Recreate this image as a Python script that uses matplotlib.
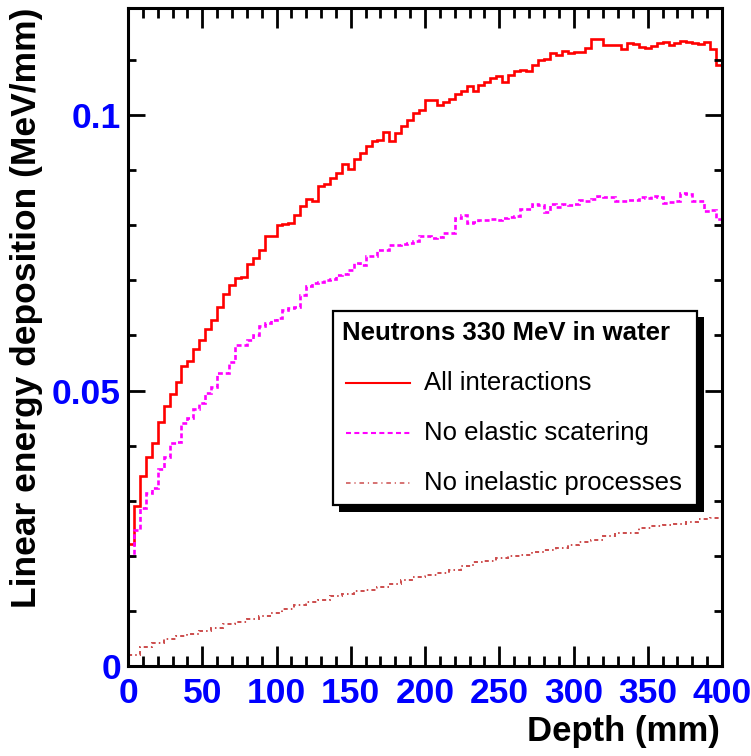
import numpy as np
import matplotlib
matplotlib.use("Agg")
import matplotlib.pyplot as plt
from matplotlib.patches import Rectangle
from matplotlib.lines import Line2D
from matplotlib.ticker import MultipleLocator

plt.rcParams['font.family'] = ['Liberation Sans', 'DejaVu Sans']

# depth bins (mm)
edges_fine = np.arange(0, 404, 4)      # 100 bins of 4 mm
edges_coarse = np.arange(0, 408, 8)    # 50 bins of 8 mm

# Linear energy deposition (MeV/mm)
all_interactions = [
    0.0221, 0.0291, 0.0344, 0.0380, 0.0404, 0.0442, 0.0472, 0.0494, 0.0515, 0.0545,
    0.0554, 0.0576, 0.0592, 0.0612, 0.0629, 0.0652, 0.0676, 0.0692, 0.0705, 0.0706,
    0.0730, 0.0741, 0.0755, 0.0781, 0.0780, 0.0801, 0.0803, 0.0804, 0.0818, 0.0836,
    0.0848, 0.0844, 0.0872, 0.0875, 0.0886, 0.0895, 0.0912, 0.0903, 0.0921, 0.0932,
    0.0945, 0.0953, 0.0955, 0.0970, 0.0953, 0.0968, 0.0981, 0.0991, 0.1005, 0.1010,
    0.1027, 0.1027, 0.1018, 0.1024, 0.1030, 0.1039, 0.1045, 0.1053, 0.1045, 0.1056,
    0.1060, 0.1067, 0.1071, 0.1060, 0.1074, 0.1080, 0.1083, 0.1080, 0.1092, 0.1100,
    0.1103, 0.1113, 0.1109, 0.1116, 0.1114, 0.1115, 0.1115, 0.1123, 0.1138, 0.1138,
    0.1127, 0.1127, 0.1127, 0.1121, 0.1132, 0.1129, 0.1124, 0.1123, 0.1126, 0.1132,
    0.1133, 0.1127, 0.1131, 0.1135, 0.1134, 0.1131, 0.1129, 0.1133, 0.1121, 0.1092,
]

no_elastic = [
    0.0200, 0.0247, 0.0286, 0.0313, 0.0322, 0.0358, 0.0380, 0.0404, 0.0407, 0.0441,
    0.0450, 0.0467, 0.0478, 0.0496, 0.0507, 0.0532, 0.0532, 0.0551, 0.0583, 0.0583,
    0.0592, 0.0600, 0.0618, 0.0622, 0.0628, 0.0632, 0.0647, 0.0650, 0.0652, 0.0674,
    0.0689, 0.0695, 0.0698, 0.0701, 0.0703, 0.0710, 0.0712, 0.0719, 0.0732, 0.0728,
    0.0744, 0.0745, 0.0755, 0.0756, 0.0765, 0.0764, 0.0766, 0.0768, 0.0772, 0.0780,
    0.0781, 0.0778, 0.0779, 0.0787, 0.0786, 0.0814, 0.0818, 0.0805, 0.0806, 0.0810,
    0.0809, 0.0811, 0.0810, 0.0814, 0.0816, 0.0817, 0.0830, 0.0829, 0.0838, 0.0837,
    0.0825, 0.0839, 0.0833, 0.0838, 0.0837, 0.0838, 0.0847, 0.0845, 0.0848, 0.0853,
    0.0852, 0.0851, 0.0844, 0.0844, 0.0847, 0.0846, 0.0851, 0.0850, 0.0853, 0.0852,
    0.0841, 0.0842, 0.0845, 0.0858, 0.0857, 0.0845, 0.0844, 0.0827, 0.0828, 0.0812,
]

no_inelastic = [
    0.0020, 0.0034, 0.0042, 0.0049, 0.0054, 0.0058, 0.0063, 0.0069, 0.0075, 0.0080,
    0.0085, 0.0091, 0.0095, 0.0103, 0.0110, 0.0115, 0.0120, 0.0126, 0.0131, 0.0136,
    0.0137, 0.0143, 0.0149, 0.0155, 0.0161, 0.0164, 0.0168, 0.0174, 0.0181, 0.0188,
    0.0190, 0.0196, 0.0199, 0.0202, 0.0207, 0.0210, 0.0214, 0.0219, 0.0224, 0.0229,
    0.0236, 0.0241, 0.0242, 0.0250, 0.0254, 0.0256, 0.0258, 0.0261, 0.0266, 0.0269,
]

labels = ["All interactions", "No elastic scatering", "No inelastic processes"]
colors = ["#ff0000", "#ff00ff", "#cc4c4c"]

W, H = 751, 756
fig = plt.figure(figsize=(W / 100, H / 100), dpi=100)


def fx(x):
    return x / W


def fy(y):
    return 1 - y / H


ax = fig.add_axes([fx(128), fy(665.7), fx(722) - fx(128), fy(8) - fy(665.7)])

dash_mag = (0, (1.85, 1.1))
dash_inel = (0, (2.1, 1.6, 0.8, 1.6))

ax.stairs(all_interactions, edges_fine, baseline=None, color=colors[0], lw=1.9)
ax.stairs(no_elastic, edges_fine, baseline=None, color=colors[1], lw=1.9, ls=dash_mag)
ax.stairs(no_inelastic, edges_coarse, baseline=None, color=colors[2], lw=1.4, ls=dash_inel)

ax.set_xlim(0, 400)
ax.set_ylim(0, 0.1195)

ax.xaxis.set_major_locator(MultipleLocator(50))
ax.xaxis.set_minor_locator(MultipleLocator(10))
ax.yaxis.set_minor_locator(MultipleLocator(0.01))
ax.set_yticks([0, 0.05, 0.1])
ax.set_yticklabels(["0", "0.05", "0.1"])

for s in ax.spines.values():
    s.set_linewidth(2.2)

ax.tick_params(axis='both', which='both', direction='in', top=True, right=True,
               width=2, colors='black', labelcolor='blue')
ax.tick_params(axis='x', which='major', length=14.5, pad=8)
ax.tick_params(axis='x', which='minor', length=7.2)
ax.tick_params(axis='y', which='major', length=12, pad=5)
ax.tick_params(axis='y', which='minor', length=6)
for lab in ax.get_xticklabels() + ax.get_yticklabels():
    lab.set_fontsize(25.5)
    lab.set_fontweight('bold')

fig.text(fx(720), fy(732), "Depth (mm)", ha='right', va='center',
         fontsize=25, fontweight='bold')
fig.text(fx(27), fy(8), "Linear energy deposition (MeV/mm)", ha='center', va='top',
         rotation=90, fontsize=25.5, fontweight='bold')

# legend box with shadow
fig.patches.append(Rectangle((fx(339), fy(511.5)), fx(703.5) - fx(339), fy(317) - fy(511.5),
                             transform=fig.transFigure, facecolor='black', edgecolor='none',
                             zorder=5))
fig.patches.append(Rectangle((fx(332.5), fy(505)), fx(697) - fx(332.5), fy(311) - fy(505),
                             transform=fig.transFigure, facecolor='white', edgecolor='black',
                             lw=1.6, zorder=6))
fig.text(fx(341.5), fy(333), "Neutrons 330 MeV in water", ha='left', va='center',
         fontsize=18.5, fontweight='bold', zorder=7)

entry_y = [383.3, 433.3, 482.7]
entry_ls = ['-', (0, (2.4, 1.6)), (0, (3, 2.5, 0.8, 2.5))]
entry_lw = [1.5, 1.5, 1.1]
for lab, c, ls, lw, yy in zip(labels, colors, entry_ls, entry_lw, entry_y):
    fig.lines.append(Line2D([fx(346), fx(410)], [fy(yy), fy(yy)], transform=fig.transFigure,
                            color=c, ls=ls, lw=lw, zorder=7))
    fig.text(fx(424), fy(yy), lab, ha='left', va='center', fontsize=18.5, zorder=7)

fig.savefig("out.png", dpi=100)
